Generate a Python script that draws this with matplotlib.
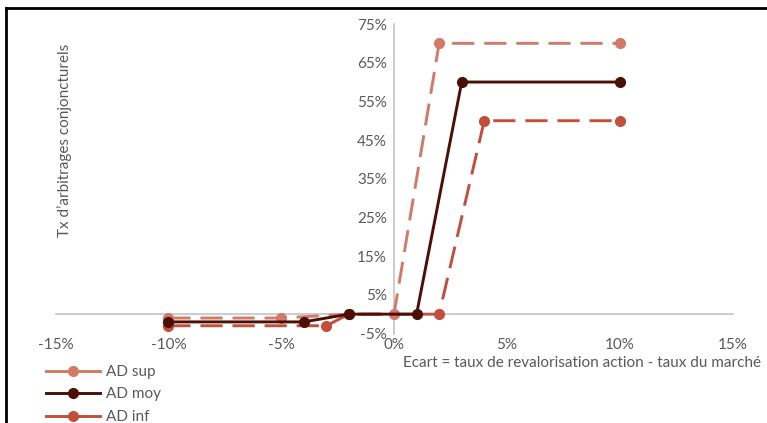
import matplotlib
matplotlib.use("Agg")
import matplotlib.pyplot as plt
from matplotlib.lines import Line2D
from matplotlib.ticker import FuncFormatter

plt.rcParams['font.family'] = ['Lato', 'DejaVu Sans']

# Data (in %)
x_sup = [-10, -5, -2, 0, 2, 10]
y_sup = [-1, -1, 0, 0, 70, 70]
x_moy = [-10, -4, -2, 1, 3, 10]
y_moy = [-2, -2, 0, 0, 60, 60]
x_inf = [-10, -3, -2, 2, 4, 10]
y_inf = [-3, -3, 0, 0, 50, 50]
series_names = ["AD sup", "AD moy", "AD inf"]
xticks = [-15, -10, -5, 0, 5, 10, 15]
yticks = [-5, 5, 15, 25, 35, 45, 55, 65, 75]

c_sup = "#d07a67"
c_moy = "#4a1008"
c_inf = "#c24f3c"
gray = "#595959"

fig = plt.figure(figsize=(7.67, 4.23), dpi=100)
W, H = 767, 423
ax = fig.add_axes([55.5 / W, 1 - 333.5 / H, (732.5 - 55.5) / W, (333.5 - 24) / H])
ax.set_xlim(-15, 15)
ax.set_ylim(-5, 75)

lw = 2.1
ms = 7
dash = (7.6, 3.4)
ax.plot(x_sup, y_sup, color=c_sup, lw=lw, dashes=dash, marker='o', ms=ms, zorder=3)
ax.plot(x_moy, y_moy, color=c_moy, lw=lw, marker='o', ms=ms, zorder=4)
ax.plot(x_inf, y_inf, color=c_inf, lw=lw, dashes=dash, marker='o', ms=ms, zorder=3)

for s in ['top', 'right']:
    ax.spines[s].set_visible(False)
ax.spines['left'].set_position(('data', 0))
ax.spines['bottom'].set_position(('data', 0))
for s in ['left', 'bottom']:
    ax.spines[s].set_color('#c8c8c8')
    ax.spines[s].set_linewidth(1.3)
    ax.spines[s].set_zorder(1)

pct = FuncFormatter(lambda v, p: f"{int(round(v))}%")
ax.set_xticks(xticks)
ax.set_yticks(yticks)
ax.xaxis.set_major_formatter(pct)
ax.yaxis.set_major_formatter(pct)
ax.tick_params(axis='both', length=0, labelsize=11, colors=gray)
ax.tick_params(axis='x', pad=17)
ax.tick_params(axis='y', pad=5)
ax.patch.set_alpha(0)

fig.text(582 / W, 1 - 363 / H, "Ecart = taux de revalorisation action - taux du marché",
         ha='center', va='center', fontsize=11, color=gray)
fig.text(65 / W, 1 - 140 / H, "Tx d’arbitrages conjoncturels", rotation=90,
         ha='center', va='center', fontsize=11, color=gray)

handles = [
    Line2D([0], [0], color=c_sup, lw=lw, marker='o', ms=ms),
    Line2D([0], [0], color=c_moy, lw=lw, marker='o', ms=ms),
    Line2D([0], [0], color=c_inf, lw=lw, marker='o', ms=ms),
]
fig.legend(handles, series_names, loc='upper left', bbox_to_anchor=(43 / W, 1 - 362 / H),
           frameon=False, fontsize=11, labelcolor=gray, handlelength=3.5,
           handletextpad=0.45, labelspacing=0.55, borderaxespad=0, borderpad=0.2)

# screenshot border lines (top and left)
fig.add_artist(Line2D([5.5 / W, 1], [1 - 8.5 / H, 1 - 8.5 / H], color='black', lw=2,
                      transform=fig.transFigure))
fig.add_artist(Line2D([5.5 / W, 5.5 / W], [0, 1 - 8.5 / H], color='black', lw=2,
                      transform=fig.transFigure))

fig.savefig("out.png", dpi=100)
